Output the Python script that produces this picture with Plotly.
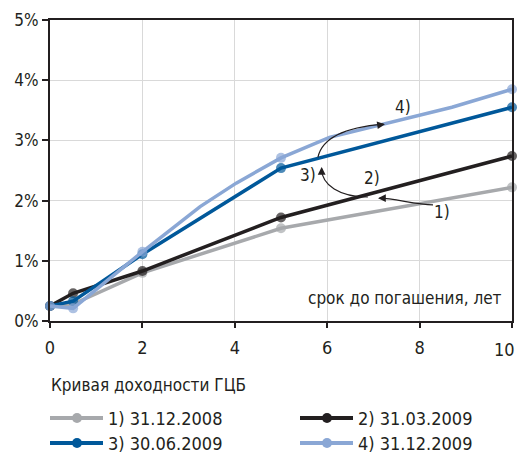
import plotly.graph_objects as go

FONT = "DejaVu Sans Condensed, Liberation Sans Narrow, sans-serif"

# maturity (years) with markers
x_main = [0, 0.5, 2, 5, 10]

# 1) 31.12.2008
s1_x = [0, 0.5, 2, 5, 10]
s1_y = [0.25, 0.28, 0.80, 1.54, 2.22]
# 2) 31.03.2009
s2_x = [0, 0.5, 2, 5, 10]
s2_y = [0.25, 0.46, 0.83, 1.72, 2.74]
# 3) 30.06.2009
s3_x = [0, 0.5, 2, 5, 10]
s3_y = [0.25, 0.33, 1.11, 2.54, 3.55]
# 4) 31.12.2009 (curve with intermediate knots)
s4_x = [0, 0.5, 2, 2.6, 3.25, 4.03, 5, 6.05, 8.7, 10]
s4_y = [0.25, 0.21, 1.15, 1.51, 1.90, 2.29, 2.71, 3.05, 3.55, 3.85]

names = ["1) 31.12.2008", "2) 31.03.2009", "3) 30.06.2009", "4) 31.12.2009"]
colors = ["#a7a9ac", "#231f20", "#00589a", "#8aa7d5"]
legend_title = "Кривая доходности ГЦБ"
axis_note = "срок до погашения, лет"

y_ticks = [0, 1, 2, 3, 4, 5]
y_labels = ["0%", "1%", "2%", "3%", "4%", "5%"]
x_ticks = [0, 2, 4, 6, 8, 10]
x_labels = ["0", "2", "4", "6", "8", "10"]

W, H = 517, 454
ML, MR, MT, MB = 50, 5, 20, 133
PW, PH = W - ML - MR, H - MT - MB


def px_x(px):
    return (px - ML) / PW


def px_y(py):
    return (H - MB - py) / PH


fig = go.Figure()
series = [(s1_x, s1_y), (s2_x, s2_y), (s3_x, s3_y), (s4_x, s4_y)]
for (xs, ys), name, col in zip(series, names, colors):
    sizes = [10 if x in x_main else 0 for x in xs]
    fig.add_trace(go.Scatter(
        x=xs, y=ys, name=name, mode="lines+markers", showlegend=False,
        line=dict(color=col, width=3.5),
        marker=dict(color=col, size=sizes, line=dict(width=0)),
        cliponaxis=False,
    ))

# curved arrows (paths in data coordinates)
paths = [
    "M 5.80,2.72 C 5.88,3.01 6.27,3.21 7.22,3.27",
    "M 6.88,2.06 C 6.27,2.06 5.88,2.26 5.88,2.53",
    "M 8.29,1.93 C 7.90,1.93 7.47,2.04 7.13,2.04",
]
for p in paths:
    fig.add_shape(type="path", path=p, xref="x", yref="y",
                  line=dict(color="#231f20", width=1.2))

heads = [(7.25, 3.27, -7, 1), (5.88, 2.56, 0, 7), (7.10, 2.04, 7, 0)]
for hx, hy, ax, ay in heads:
    fig.add_annotation(x=hx, y=hy, ax=ax, ay=ay, text="", showarrow=True,
                       arrowhead=2, arrowsize=1.3, arrowwidth=1.2,
                       arrowcolor="#231f20", standoff=0)

labels = [("4)", 7.64, 3.55), ("3)", 5.58, 2.43), ("2)", 6.97, 2.38), ("1)", 8.48, 1.81)]
for t, lx, ly in labels:
    fig.add_annotation(x=lx, y=ly, text=t, showarrow=False,
                       font=dict(family=FONT, size=17, color="#231f20"))

fig.add_annotation(x=9.82, y=0.38, text=axis_note, showarrow=False,
                   xanchor="right", yanchor="middle",
                   font=dict(family=FONT, size=17, color="#231f20"))

# last x tick label, kept inside the figure edge
fig.add_annotation(x=1, y=px_y(349), xref="paper", yref="paper",
                   text=x_labels[-1], showarrow=False, xanchor="right",
                   yanchor="middle", xshift=5,
                   font=dict(family=FONT, size=18, color="#231f20"))

# manual legend below the plot
fig.add_annotation(x=px_x(49), y=px_y(385), xref="paper", yref="paper",
                   text=legend_title, showarrow=False, xanchor="left",
                   yanchor="middle",
                   font=dict(family=FONT, size=17, color="#231f20"))
legend_pos = [(50, 418), (300, 418), (50, 443), (300, 443)]
for (lx, ly), name, col in zip(legend_pos, names, colors):
    fig.add_shape(type="line", xref="paper", yref="paper",
                  x0=px_x(lx), x1=px_x(lx + 53), y0=px_y(ly), y1=px_y(ly),
                  line=dict(color=col, width=4))
    fig.add_shape(type="circle", xref="paper", yref="paper",
                  xsizemode="pixel", ysizemode="pixel",
                  xanchor=px_x(lx + 27), yanchor=px_y(ly),
                  x0=-5, x1=5, y0=-5, y1=5,
                  fillcolor=col, line=dict(width=0))
    fig.add_annotation(x=px_x(lx + 56), y=px_y(ly), xref="paper", yref="paper",
                       text=name, showarrow=False, xanchor="left",
                       yanchor="middle",
                       font=dict(family=FONT, size=18, color="#231f20"))

fig.update_xaxes(range=[0, 10], tickvals=x_ticks,
                 ticktext=x_labels[:-1] + [""], showgrid=True, gridcolor="#d9d9d9",
                 gridwidth=1, ticks="outside", ticklen=5, tickwidth=1.5,
                 tickcolor="#231f20", showline=True, linecolor="#231f20", linewidth=2,
                 mirror=True, zeroline=False, ticklabeloverflow="allow",
                 automargin=False, ticklabelstandoff=4,
                 tickfont=dict(family=FONT, size=18, color="#231f20"))
fig.update_yaxes(range=[0, 5], tickvals=y_ticks, ticktext=y_labels, showgrid=True,
                 gridcolor="#d9d9d9", gridwidth=1, ticks="outside", ticklen=6,
                 tickwidth=1.5, tickcolor="#231f20", showline=True,
                 linecolor="#231f20", linewidth=2, mirror=True, zeroline=False,
                 ticklabeloverflow="allow", automargin=False,
                 tickfont=dict(family=FONT, size=17, color="#231f20"))

fig.update_layout(
    width=W, height=H,
    margin=dict(l=ML, r=MR, t=MT, b=MB),
    paper_bgcolor="white", plot_bgcolor="white",
    font=dict(family=FONT, color="#231f20"),
    showlegend=False,
)

fig.write_html("out.html")
